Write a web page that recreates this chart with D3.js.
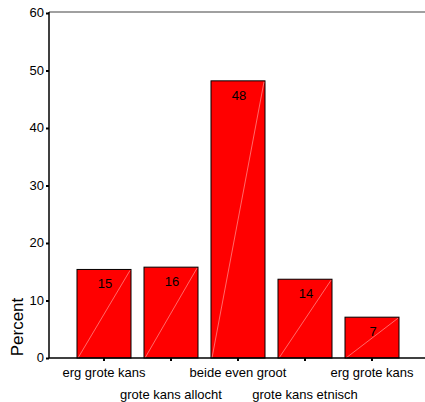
<!DOCTYPE html>
<html><head><meta charset="utf-8">
<script src="https://cdn.jsdelivr.net/npm/d3@7"></script>
<style>body{margin:0;background:#fff}svg{display:block;font-family:"Liberation Sans",Arial,sans-serif}</style>
</head><body>
<script>
const categories = ["erg grote kans", "grote kans allocht", "beide even groot", "grote kans etnisch", "erg grote kans"];
const values = [15.4, 15.8, 48.2, 13.7, 7.1];
const labels = ["15", "16", "48", "14", "7"];
const yTicks = [0, 10, 20, 30, 40, 50, 60];

const W = 425, H = 402;
const svg = d3.select("body").append("svg").attr("width", W).attr("height", H);
const x0 = 49, yBottom = 358, yTop = 13;
const idx = categories.map((d, i) => i);
const x = d3.scaleBand().domain(idx).range([70.5, 405.5]).paddingInner(0.194).paddingOuter(0.097);
const y = d3.scaleLinear().domain([0, 60]).range([yBottom, yTop]);

// top border
svg.append("line").attr("x1", x0).attr("x2", W).attr("y1", 12).attr("y2", 12)
  .attr("stroke", "#808080").attr("stroke-width", 1.5);

// bars
const g = svg.append("g");
idx.forEach(i => {
  const bx = x(i), bw = x.bandwidth(), by = y(values[i]);
  g.append("rect").attr("x", bx).attr("y", by).attr("width", bw).attr("height", yBottom - by)
    .attr("fill", "#ff0000").attr("stroke", "#000").attr("stroke-width", 1);
  g.append("line").attr("x1", bx + 1).attr("y1", yBottom).attr("x2", bx + bw - 1).attr("y2", by + 1)
    .attr("stroke", "#ffb0b0").attr("stroke-width", 0.6);
  g.append("text").attr("x", bx + bw / 2 + 1).attr("y", by + 19).attr("text-anchor", "middle")
    .attr("font-size", 13).attr("fill", "#000").text(labels[i]);
});

// y axis
const ya = svg.append("g").attr("transform", `translate(${x0},0)`)
  .call(d3.axisLeft(y).tickValues(yTicks).tickSize(3).tickPadding(2));
ya.select(".domain").remove();
ya.selectAll(".tick line").attr("stroke", "#000").attr("stroke-width", 2);
ya.selectAll(".tick text").attr("font-size", 13).attr("fill", "#000").attr("font-family", "Liberation Sans, Arial, sans-serif").attr("dy", "0.3em");
svg.append("line").attr("x1", x0).attr("x2", x0).attr("y1", 12).attr("y2", yBottom)
  .attr("stroke", "#000").attr("stroke-width", 1.5);

// x axis
const xa = svg.append("g").attr("transform", `translate(0,${yBottom})`)
  .call(d3.axisBottom(x).tickSize(3).tickFormat(i => categories[i]));
xa.select(".domain").remove();
xa.selectAll(".tick line").attr("stroke", "#000").attr("stroke-width", 2);
xa.selectAll(".tick text").attr("font-size", 13).attr("fill", "#000")
  .attr("font-family", "Liberation Sans, Arial, sans-serif")
  .attr("y", (d, i) => i % 2 === 0 ? 10 : 32).attr("dy", "0.71em");
svg.append("line").attr("x1", x0).attr("x2", W).attr("y1", yBottom).attr("y2", yBottom)
  .attr("stroke", "#000").attr("stroke-width", 1.5);

// y label
svg.append("text").attr("transform", `translate(23,327) rotate(-90)`).attr("text-anchor", "middle")
  .attr("font-size", 17).attr("fill", "#000").text("Percent");
</script>
</body></html>
